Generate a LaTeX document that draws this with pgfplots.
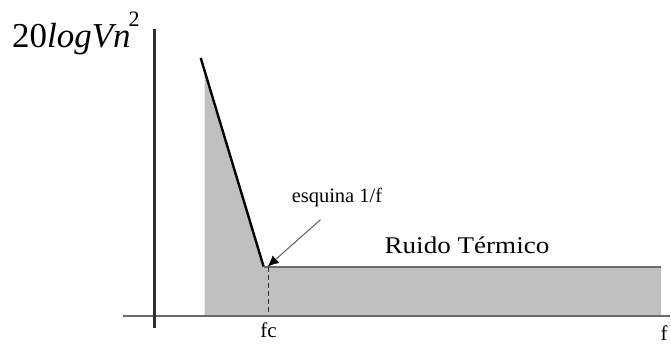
\documentclass[border=0pt]{standalone}
\usepackage{pgfplots}
\pgfplotsset{compat=1.18}
\usepackage{fontspec}
\setmainfont{Liberation Serif}
\usetikzlibrary{arrows.meta}
\definecolor{shade}{HTML}{C0C0C0}
\definecolor{axisdark}{HTML}{2E2E2E}
\definecolor{axisgray}{HTML}{6A6A6A}

\begin{document}
\begin{tikzpicture}
\begin{axis}[
  scale only axis,
  width=671pt, height=344pt,
  xmin=0, xmax=671, ymin=0, ymax=344,
  hide axis, clip=false,
]
% keep the full canvas in the bounding box
\path (rel axis cs:0,0) rectangle (rel axis cs:1,1);
% shaded noise spectrum (1/f region and thermal floor)
\addplot[draw=none, fill=shade] coordinates {
  (205,28) (205,272) (264,77) (662,77) (662,28)} -- cycle;
% 1/f slope
\addplot[black, line width=2.4pt] coordinates {(201,286) (264,77)};
% thermal noise floor
\addplot[axisgray, line width=2pt] coordinates {(264,77) (662,77)};
% corner frequency marker
\addplot[axisdark, line width=1.4pt, dash pattern=on 5pt off 3pt] coordinates {(269,77) (269,28)};
% frequency axis
\addplot[axisgray, line width=2pt] coordinates {(123,28) (671,28)};
% magnitude axis
\addplot[axisdark, line width=2.6pt] coordinates {(155,315) (155,16)};
% arrow pointing at the corner
\addplot[axisgray, line width=1.1pt, -{Latex[length=11pt,width=10pt,black]}] coordinates {(321,124) (268,77)};

\node[anchor=base west, font=\fontsize{20.5}{24}\selectfont, inner sep=0pt] at (axis cs:292,141) {esquina 1/f};
\node[anchor=base west, font=\fontsize{24}{28}\selectfont, inner sep=0pt] at (axis cs:385,90) {\scalebox{1.13}[1]{Ruido Térmico}};
\node[anchor=base, font=\fontsize{21}{25}\selectfont, inner sep=0pt] at (axis cs:269,6) {fc};
\node[anchor=base, font=\fontsize{21}{25}\selectfont, inner sep=0pt] at (axis cs:665,3) {f};
\node[anchor=base west, font=\fontsize{35}{40}\selectfont, inner sep=0pt] at (axis cs:12,296) {20\textit{logVn}\kern-2pt\raisebox{21pt}{\fontsize{22}{26}\selectfont 2}};
\end{axis}
\end{tikzpicture}
\end{document}
